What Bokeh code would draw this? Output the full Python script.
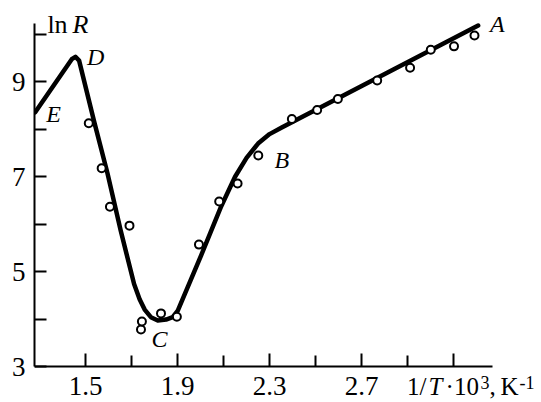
from bokeh.plotting import figure
from bokeh.models import Range1d, FixedTicker, Label
from bokeh.embed import file_html
from bokeh.resources import INLINE

# ---- data ----
curve_x = [1.281, 1.440, 1.456, 1.472, 1.536, 1.595, 1.653, 1.711, 1.735, 1.757,
           1.784, 1.814, 1.850, 1.879, 1.901, 2.003, 2.090, 2.150, 2.200, 2.250,
           2.300, 2.353, 3.207]
curve_y = [8.36, 9.48, 9.53, 9.45, 8.19, 7.08, 5.86, 4.74, 4.42, 4.20,
           4.04, 3.97, 3.99, 4.04, 4.18, 5.35, 6.38, 7.00, 7.40, 7.70,
           7.90, 8.04, 10.19]

pts_x = [1.514, 1.570, 1.606, 1.691, 1.741, 1.745, 1.828, 1.897, 1.993, 2.081,
         2.161, 2.251, 2.397, 2.507, 2.597, 2.768, 2.911, 3.001, 3.102, 3.191]
pts_y = [8.13, 7.18, 6.37, 5.97, 3.78, 3.95, 4.12, 4.05, 5.57, 6.48,
         6.86, 7.45, 8.22, 8.41, 8.64, 9.03, 9.30, 9.68, 9.75, 9.98]

x_major = [1.5, 1.9, 2.3, 2.7, 3.1]
x_minor = [1.7, 2.1, 2.5, 2.9]
y_major = [3, 5, 7, 9]
y_minor = [4, 6, 8, 10]

point_names = ["A", "B", "C", "D", "E"]
point_lx = [3.29, 2.353, 1.821, 1.544, 1.361]
point_ly = [10.22, 7.35, 3.58, 9.53, 8.33]

SERIF = "Liberation Serif"

p = figure(width=541, height=402, output_backend="svg", toolbar_location=None,
           x_range=Range1d(1.278, 3.4824), y_range=Range1d(2.241, 10.717),
           min_border_left=34, min_border_right=0, min_border_top=0,
           min_border_bottom=0)
p.outline_line_color = None
p.xgrid.visible = False
p.ygrid.visible = False
p.background_fill_color = "white"
p.border_fill_color = "white"

for ax in (p.xaxis[0], p.yaxis[0]):
    ax.axis_line_width = 2
    ax.axis_line_color = "black"
    ax.major_tick_line_width = 2
    ax.minor_tick_line_width = 2
    ax.major_tick_line_color = "black"
    ax.minor_tick_line_color = "black"
    ax.major_tick_out = 0
    ax.minor_tick_out = 0
    ax.major_label_text_font = SERIF
    ax.major_label_text_font_size = "27px"
    ax.major_label_text_color = "black"

xa = p.xaxis[0]
xa.ticker = FixedTicker(ticks=x_major, minor_ticks=x_minor)
xa.major_tick_in = 13
xa.minor_tick_in = 11
xa.major_label_standoff = 10
xa.major_label_overrides = {3.1: ""}
xa.fixed_location = 3
xa.bounds = (1.278, 3.268)

ya = p.yaxis[0]
ya.ticker = FixedTicker(ticks=y_major, minor_ticks=y_minor)
ya.major_tick_in = 12
ya.minor_tick_in = 12
ya.major_label_standoff = 9
ya.bounds = (3, 10.232)

p.line(curve_x, curve_y, line_width=4.5, line_color="black",
       line_join="round", line_cap="round")
p.scatter(pts_x, pts_y, marker="circle", size=8, fill_color="white",
          line_color="black", line_width=2)

for name, lx, ly in zip(point_names, point_lx, point_ly):
    p.add_layout(Label(x=lx, y=ly, text=name, text_font=SERIF,
                       text_font_style="italic", text_font_size="24px",
                       text_color="black",
                       text_align="center", text_baseline="middle"))

# y-axis title "ln R"
p.add_layout(Label(x=1.334, y=10.219, text="ln", text_font=SERIF,
                   text_font_size="26px", text_color="black",
                   text_baseline="middle"))
p.add_layout(Label(x=1.334, y=10.219, x_offset=25, text="R", text_font=SERIF,
                   text_font_style="italic", text_font_size="26px",
                   text_color="black", text_baseline="middle"))

# x-axis title "1/T·10³, K⁻¹" placed under the 3.1 tick
pieces = [
    ("1/", -46.5, -20, "normal", "25px"),
    ("T", -25, -20, "italic", "25px"),
    ("·10", -8, -20, "normal", "25px"),
    ("3", 27, -15.5, "normal", "18px"),
    (",", 36, -20, "normal", "25px"),
    ("K", 47, -20, "normal", "25px"),
    ("-1", 66, -15.5, "normal", "18px"),
]
for txt, dx, dy, style, fs in pieces:
    p.add_layout(Label(x=3.1, y=3, x_offset=dx, y_offset=dy, text=txt,
                       text_font=SERIF, text_font_style=style,
                       text_font_size=fs, text_color="black",
                       text_baseline="middle", text_align="left"))

open("out.html", "w").write(file_html(p, INLINE))
